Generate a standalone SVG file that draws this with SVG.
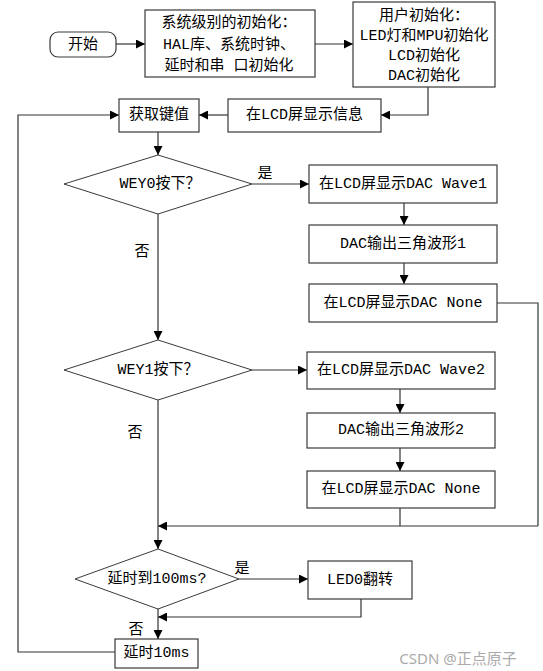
<svg xmlns="http://www.w3.org/2000/svg" width="543" height="671" viewBox="0 0 543 671">
<style>
.box{fill:#fff;stroke:#3a3a3a;stroke-width:1.2}
.dia{fill:#fff;stroke:#3a3a3a;stroke-width:1}
.t{font-family:"Liberation Mono","Noto Sans CJK SC",monospace;font-size:15px;fill:#000;text-anchor:middle;dominant-baseline:central}
.lab{font-family:"Noto Sans CJK SC",sans-serif;font-size:15px;fill:#000;text-anchor:middle;dominant-baseline:central}
.c{fill:none;stroke:#333;stroke-width:1.2}
.ca{fill:none;stroke:#333;stroke-width:1.2;marker-end:url(#ah)}
</style>
<defs>
<marker id="ah" viewBox="0 0 10 10" refX="10" refY="5" markerWidth="10" markerHeight="9" markerUnits="userSpaceOnUse" orient="auto">
<path d="M0,0 L10,5 L0,10 z" fill="#000"/>
</marker>
</defs>
<rect width="543" height="671" fill="#fff"/>
<g id="connectors">
<path class="ca" d="M116,44 H145"/>
<path class="ca" d="M315,44 H353"/>
<path class="ca" d="M428,87 V115 H381"/>
<path class="ca" d="M228,115 H199"/>
<path class="ca" d="M115,652 H18 V115 H119"/>
<path class="ca" d="M158,132 V155"/>
<path class="ca" d="M252,184 H309"/>
<path class="ca" d="M404,203 V225"/>
<path class="ca" d="M404,263 V284"/>
<path class="c" d="M497,303 H538 V526"/>
<path class="ca" d="M158,214 V340"/>
<path class="ca" d="M252,370 H307"/>
<path class="ca" d="M400,389 V413"/>
<path class="ca" d="M400,448 V471"/>
<path class="c" d="M400,508 V526"/>
<path class="ca" d="M538,526 H158"/>
<path class="ca" d="M158,400 V549"/>
<path class="ca" d="M239,579 H308"/>
<path class="ca" d="M361,599 V617 H158"/>
<path class="ca" d="M158,609 V639"/>
<text class="lab" x="265" y="171">是</text>
<text class="lab" x="142" y="249">否</text>
<text class="lab" x="135" y="430">否</text>
<text class="lab" x="242" y="566">是</text>
<text class="lab" x="136" y="627">否</text>
</g>
<g id="start">
<rect class="box" x="50" y="32" width="66" height="25" rx="8"/>
<text class="t" x="83" y="45">开始</text>
</g>
<g id="sysinit">
<rect class="box" x="145" y="10" width="170" height="67"/>
<text class="t" x="229" y="23">系统级别的初始化：</text>
<text class="t" x="229" y="45">HAL库、系统时钟、</text>
<text class="t" x="229" y="66">延时和串 口初始化</text>
</g>
<g id="userinit">
<rect class="box" x="353" y="2" width="142" height="85"/>
<text class="t" x="424" y="16">用户初始化：</text>
<text class="t" x="424" y="36">LED灯和MPU初始化</text>
<text class="t" x="424" y="56">LCD初始化</text>
<text class="t" x="424" y="76">DAC初始化</text>
</g>
<g id="lcdinfo">
<rect class="box" x="228" y="99" width="153" height="33"/>
<text class="t" x="304.5" y="115.5">在LCD屏显示信息</text>
</g>
<g id="getkey">
<rect class="box" x="119" y="99" width="80" height="33"/>
<text class="t" x="159" y="115.5">获取键值</text>
</g>
<g id="key0">
<polygon class="dia" points="64,184 158,155 252,184 158,214"/>
<text class="t" x="160" y="184">WEY0按下？</text>
</g>
<g id="wave1">
<rect class="box" x="309" y="165" width="188" height="38"/>
<text class="t" x="403" y="184">在LCD屏显示DAC Wave1</text>
</g>
<g id="dac1">
<rect class="box" x="309" y="225" width="188" height="38"/>
<text class="t" x="403" y="244">DAC输出三角波形1</text>
</g>
<g id="none1">
<rect class="box" x="309" y="284" width="188" height="38"/>
<text class="t" x="403" y="303">在LCD屏显示DAC None</text>
</g>
<g id="key1">
<polygon class="dia" points="64,370 158,340 252,370 158,400"/>
<text class="t" x="158" y="370">WEY1按下？</text>
</g>
<g id="wave2">
<rect class="box" x="307" y="352" width="188" height="37"/>
<text class="t" x="401" y="370.5">在LCD屏显示DAC Wave2</text>
</g>
<g id="dac2">
<rect class="box" x="307" y="413" width="188" height="35"/>
<text class="t" x="401" y="430.5">DAC输出三角波形2</text>
</g>
<g id="none2">
<rect class="box" x="307" y="471" width="188" height="37"/>
<text class="t" x="401" y="489.5">在LCD屏显示DAC None</text>
</g>
<g id="delay100">
<polygon class="dia" points="75,579 158,549 239,579 158,609"/>
<text class="t" x="157" y="579">延时到100ms?</text>
</g>
<g id="led0">
<rect class="box" x="308" y="561" width="104" height="38"/>
<text class="t" x="360" y="580">LED0翻转</text>
</g>
<g id="delay10">
<rect class="box" x="115" y="639" width="83" height="29"/>
<text class="t" x="156.5" y="653.5">延时10ms</text>
</g>
<text x="458" y="658" font-family="'Noto Sans','Noto Sans CJK SC',sans-serif" font-size="15" fill="#aaa" text-anchor="middle" dominant-baseline="central">CSDN @正点原子</text>
</svg>
